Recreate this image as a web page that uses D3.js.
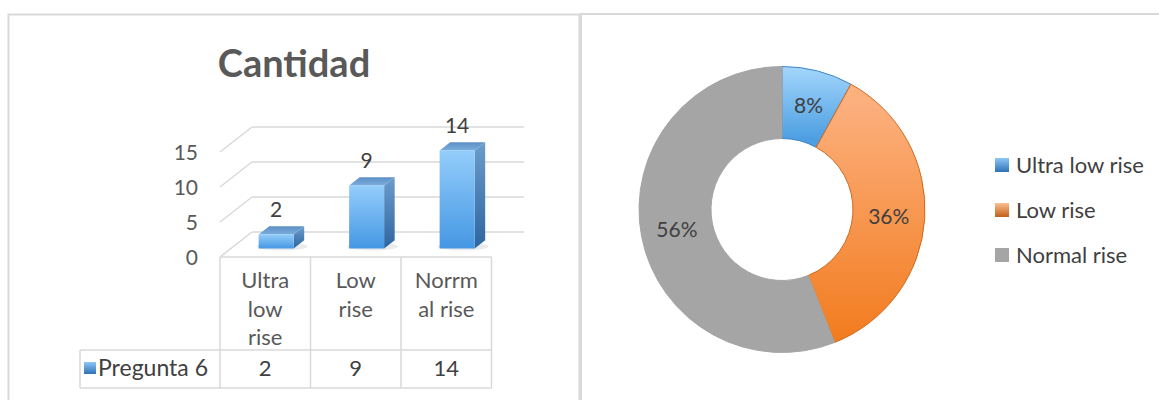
<!DOCTYPE html>
<html><head><meta charset="utf-8">
<script src="https://cdn.jsdelivr.net/npm/d3@7"></script>
<style>
html,body{margin:0;padding:0;background:#fff;}
svg{display:block;font-family:Lato, "Open Sans", sans-serif;}
</style></head>
<body>
<svg id="c" width="1159" height="400"></svg>
<script>
// ---- data ----
const categories = ["Ultra low rise", "Low rise", "Norrmal rise"];
const categoryLabelLines = [["Ultra", "low", "rise"], ["Low", "rise"], ["Norrm", "al rise"]];
const seriesName = "Pregunta 6";
const values = [2, 9, 14];
const yTicks = [0, 5, 10, 15];
const chartTitle = "Cantidad";
const pieCategories = ["Ultra low rise", "Low rise", "Normal rise"];
const pieValues = [2, 9, 14];

const svg = d3.select("#c");
const defs = svg.append("defs");
function lg(id, stops, x1, y1, x2, y2) {
  const g = defs.append("linearGradient").attr("id", id)
    .attr("x1", x1).attr("y1", y1).attr("x2", x2).attr("y2", y2);
  stops.forEach(s => g.append("stop").attr("offset", s[0]).attr("stop-color", s[1]));
  return g;
}
lg("barFront", [[0, "#93cdfb"], [1, "#4597e3"]], 0, 0, 0, 1);
lg("barSide", [[0, "#6b9dcc"], [1, "#2d659f"]], 0, 0, 0, 1);
lg("barTop", [[0, "#5d8fc4"], [1, "#79addd"]], 0, 0, 0, 1);
lg("legBlue", [[0, "#8cc8f6"], [1, "#2f71b5"]], 0, 0, 0, 1);
lg("legOrange", [[0, "#fcc08f"], [1, "#c0601a"]], 0, 0, 0, 1);
lg("sliceBlue", [[0, "#a3d6fc"], [1, "#4e9fe2"]], 0, 0, 0, 1);
lg("sliceOrange", [[0, "#fcb07e"], [1, "#f27c1f"]], 0, 0, 0, 1);

const border = "#d9d9d9";
// panels
svg.append("rect").attr("x", 8.5).attr("y", 14.5).attr("width", 571).attr("height", 420)
  .attr("fill", "none").attr("stroke", border).attr("stroke-width", 2);
svg.append("rect").attr("x", 581).attr("y", 14).attr("width", 620).attr("height", 420)
  .attr("fill", "none").attr("stroke", border).attr("stroke-width", 2);

// ---- bar chart ----
const left = svg.append("g");
left.append("text").attr("x", 294).attr("y", 77).attr("text-anchor", "middle")
  .attr("font-size", 38).attr("font-weight", "bold").attr("fill", "#595959").text(chartTitle);

const x = d3.scaleBand().domain(categories).range([220, 491.5]);
const y = d3.scaleLinear().domain([0, 15]).range([257, 152]);
const depth = { dx: 32, dy: -25 };
const grid = "#d9d9d9";

yTicks.forEach(t => {
  const yf = y(t);
  left.append("line").attr("x1", 220).attr("y1", yf).attr("x2", 220 + depth.dx).attr("y2", yf + depth.dy)
    .attr("stroke", grid).attr("stroke-width", 1.5);
  left.append("line").attr("x1", 220 + depth.dx).attr("y1", yf + depth.dy).attr("x2", 524).attr("y2", yf + depth.dy)
    .attr("stroke", grid).attr("stroke-width", 1.5);
  left.append("text").attr("x", 198).attr("y", yf + 7.5).attr("text-anchor", "end")
    .attr("font-size", 21).attr("fill", "#595959").text(t);
});

// bars
const d0 = 0.34, dt = 0.33, bw = 35;
values.forEach((v, i) => {
  const cx = x(categories[i]) + x.bandwidth() / 2 + depth.dx * d0;
  const base = y(0) + depth.dy * d0;
  const top = base - (y(0) - y(v));
  const fx0 = cx - bw / 2, fx1 = cx + bw / 2;
  const ddx = depth.dx * dt, ddy = depth.dy * dt;
  const g = left.append("g");
  g.append("ellipse").attr("cx", cx + 6).attr("cy", base - 2).attr("rx", bw / 2 + 8).attr("ry", 4)
    .attr("fill", "#000").attr("opacity", 0.08);
  g.append("polygon").attr("points", [[fx1, top], [fx1 + ddx, top + ddy], [fx1 + ddx, base + ddy], [fx1, base]].join(" "))
    .attr("fill", "url(#barSide)");
  g.append("polygon").attr("points", [[fx0, top], [fx0 + ddx, top + ddy], [fx1 + ddx, top + ddy], [fx1, top]].join(" "))
    .attr("fill", "url(#barTop)");
  g.append("rect").attr("x", fx0).attr("y", top).attr("width", bw).attr("height", base - top)
    .attr("fill", "url(#barFront)");
  left.append("text").attr("x", cx).attr("y", top + ddy - 9).attr("text-anchor", "middle")
    .attr("font-size", 21).attr("fill", "#404040").text(v);
});

// data table
const tTop = y(0), tMid = 350, tBot = 388, tLeft = 80;
const colEdges = [x.range()[0]].concat(categories.map(c => x(c) + x.bandwidth()));
left.append("line").attr("x1", 220).attr("x2", colEdges[3]).attr("y1", tTop).attr("y2", tTop).attr("stroke", grid).attr("stroke-width", 1.5);
[tMid, tBot].forEach(yy => left.append("line").attr("x1", tLeft).attr("x2", colEdges[3]).attr("y1", yy).attr("y2", yy).attr("stroke", grid).attr("stroke-width", 1.5));
colEdges.forEach(xx => left.append("line").attr("x1", xx).attr("x2", xx).attr("y1", tTop).attr("y2", tBot).attr("stroke", grid).attr("stroke-width", 1.5));
left.append("line").attr("x1", tLeft).attr("x2", tLeft).attr("y1", tMid).attr("y2", tBot).attr("stroke", grid).attr("stroke-width", 1.5);

categories.forEach((c, i) => {
  const cx = x(c) + x.bandwidth() / 2;
  categoryLabelLines[i].forEach((ln, j) => {
    left.append("text").attr("x", cx).attr("y", 288 + j * 28.5).attr("text-anchor", "middle")
      .attr("font-size", 22).attr("fill", "#595959").text(ln);
  });
  left.append("text").attr("x", cx).attr("y", 376).attr("text-anchor", "middle")
    .attr("font-size", 22).attr("fill", "#404040").text(values[i]);
});
left.append("rect").attr("x", 84).attr("y", 362).attr("width", 12).attr("height", 12).attr("fill", "url(#legBlue)");
left.append("text").attr("x", 98).attr("y", 376).attr("font-size", 23).attr("fill", "#404040").text(seriesName);

// ---- donut ----
const cxp = 782, cyp = 209.5, rOut = 143, rIn = 71;
const pie = d3.pie().sort(null).value(d => d)(pieValues);
const arc = d3.arc().innerRadius(rIn).outerRadius(rOut);
const sliceFill = ["url(#sliceBlue)", "url(#sliceOrange)", "#a5a5a5"];
const sliceStroke = ["#3f84c4", "#d0691c", "#a5a5a5"];
const total = d3.sum(pieValues);
const dg = svg.append("g").attr("transform", `translate(${cxp},${cyp})`);
defs.select("#sliceBlue").attr("gradientUnits", "userSpaceOnUse").attr("x1", 0).attr("y1", -rOut).attr("x2", 0).attr("y2", -rIn);
defs.select("#sliceOrange").attr("gradientUnits", "userSpaceOnUse").attr("x1", 0).attr("y1", -110).attr("x2", 0).attr("y2", 130);
dg.selectAll("path.s").data(pie).join("path").attr("class", "s")
  .attr("d", arc).attr("fill", (d, i) => sliceFill[i])
  .attr("stroke", (d, i) => sliceStroke[i]).attr("stroke-width", 1);
dg.selectAll("text.l").data(pie).join("text").attr("class", "l")
  .attr("x", d => arc.centroid(d)[0]).attr("y", d => arc.centroid(d)[1] + 7.5)
  .attr("text-anchor", "middle").attr("font-size", 21).attr("fill", "#404040")
  .text(d => Math.round(d.data / total * 100) + "%");

// legend
const legFill = ["url(#legBlue)", "url(#legOrange)", "#a5a5a5"];
const legY = d3.scalePoint().domain(pieCategories).range([165, 255]);
pieCategories.forEach((c, i) => {
  svg.append("rect").attr("x", 995).attr("y", legY(c) - 7).attr("width", 14).attr("height", 14).attr("fill", legFill[i]);
  svg.append("text").attr("x", 1016).attr("y", legY(c) + 7.5).attr("font-size", 22).attr("fill", "#404040").text(c);
});
</script>
</body></html>
